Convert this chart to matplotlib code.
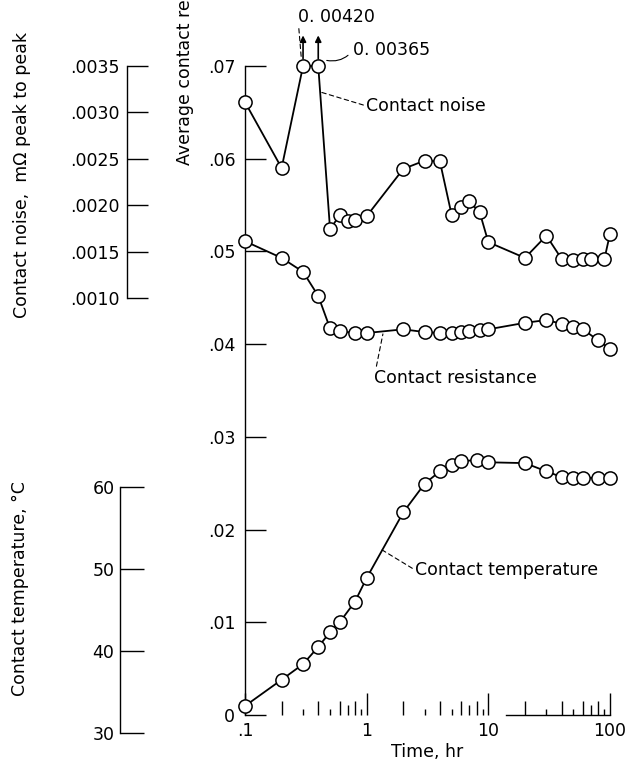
import numpy as np
import matplotlib
matplotlib.use("Agg")
import matplotlib.pyplot as plt
from matplotlib.ticker import FixedLocator, NullFormatter

plt.rcParams['font.family'] = ['Liberation Sans Narrow', 'DejaVu Sans']
plt.rcParams['font.size'] = 12.5

# time, hr
t_res = [0.1, 0.2, 0.3, 0.4, 0.5, 0.6, 0.8, 1, 2, 3, 4, 5, 6, 7, 8.5, 10,
         20, 30, 40, 50, 60, 80, 100]
t_noise = [0.1, 0.2, 0.3, 0.4, 0.5, 0.6, 0.7, 0.8, 1, 2, 3, 4, 5, 6, 7, 8.5, 10,
           20, 30, 40, 50, 60, 70, 90, 100]
t_temp = [0.1, 0.2, 0.3, 0.4, 0.5, 0.6, 0.8, 1, 2, 3, 4, 5, 6, 8, 10,
          20, 30, 40, 50, 60, 80, 100]

# average contact resistance
resistance = [0.0511, 0.0493, 0.0478, 0.0452, 0.0417, 0.0414, 0.0412, 0.0412,
              0.0416, 0.0413, 0.0412, 0.0412, 0.0413, 0.0414, 0.0415, 0.0416,
              0.0423, 0.0426, 0.0422, 0.0419, 0.0416, 0.0404, 0.0395]
# contact noise, mOhm peak to peak
noise = [0.00311, 0.00240, 0.00420, 0.00365, 0.00174, 0.00189, 0.00183, 0.00184,
         0.00188, 0.00239, 0.00248, 0.00247, 0.00189, 0.00198, 0.00204, 0.00192,
         0.00160, 0.00143, 0.00167, 0.00142, 0.00141, 0.00142, 0.00142, 0.00142,
         0.00169]
# contact temperature, deg C
temperature = [33.3, 36.5, 38.4, 40.5, 42.3, 43.5, 46.0, 48.9, 56.9, 60.4, 61.9,
               62.7, 63.1, 63.3, 63.0, 62.9, 61.9, 61.2, 61.1, 61.1, 61.1, 61.1]

x_ticks = [0.1, 1, 10, 100]
x_ticklabels = ['.1', '1', '10', '100']
res_ticks = [0, 0.01, 0.02, 0.03, 0.04, 0.05, 0.06, 0.07]
noise_ticks = [0.0010, 0.0015, 0.0020, 0.0025, 0.0030, 0.0035]
temp_ticks = [30, 40, 50, 60]

W, H = 625, 768
fig = plt.figure(figsize=(W / 100, H / 100), dpi=100)

mk = dict(marker='o', mfc='white', mec='black', ms=9.5, mew=1.1,
          color='black', lw=1.3, clip_on=False, zorder=3)
dash = dict(arrowstyle='-', color='black', lw=0.8, linestyle=(0, (4, 3)),
            shrinkA=0, shrinkB=0)

# main axes (resistance)
ax = fig.add_axes([245 / W, 1 - 715 / H, 365 / W, 649 / H])
ax.set_xscale('log')
ax.set_xlim(0.1, 100)
ax.set_ylim(0, 0.07)
ax.patch.set_alpha(0)
for s in ['top', 'right']:
    ax.spines[s].set_visible(False)
ax.spines['bottom'].set_bounds(14, 100)
for s in ['left', 'bottom']:
    ax.spines[s].set_linewidth(1.0)

ax.set_yticks(res_ticks)
ax.set_yticklabels(['0'] + ['.%02d' % round(v * 100) for v in res_ticks[1:]])
ax.tick_params(axis='y', direction='in', length=15, width=1.0, pad=7)
ax.yaxis.get_major_ticks()[0].tick1line.set_visible(False)

ax.xaxis.set_major_locator(FixedLocator(x_ticks))
ax.set_xticklabels(x_ticklabels)
minor_locs = [k * 10.0 ** e for e in (-1, 0, 1) for k in range(2, 10)]
ax.xaxis.set_minor_locator(FixedLocator(minor_locs))
ax.xaxis.set_minor_formatter(NullFormatter())
ax.tick_params(axis='x', which='major', direction='in', length=16, width=1.0, pad=5)
ax.tick_params(axis='x', which='minor', direction='in', length=8, width=1.0)
for tick, loc in zip(ax.xaxis.get_minor_ticks(len(minor_locs)), minor_locs):
    k = round(loc / 10 ** np.floor(np.log10(loc) + 1e-9))
    size = 10 if k % 2 == 0 else (7 if k == 7 else 4.5)
    tick.tick1line.set_markersize(size)
ax.set_xlabel('Time, hr', labelpad=2)

ax.plot(t_res, resistance, **mk)

# noise and temperature share the plotting area with their own ranges
axn = ax.twinx()
axn.set_ylim(-0.0035, 0.0035)
axn.axis('off')
noise_shown = np.minimum(noise, 0.0035)
axn.plot(t_noise, noise_shown, **mk)
for t, v in zip(t_noise, noise):
    if v > 0.0035:
        axn.annotate('', xy=(t, 0.00383), xytext=(t, 0.00358),
                     arrowprops=dict(arrowstyle='-|>', color='black', lw=1.2,
                                     mutation_scale=9, shrinkA=0, shrinkB=0),
                     annotation_clip=False)

axt = ax.twinx()
axt.set_ylim(32.2, 111.3)
axt.axis('off')
axt.plot(t_temp, temperature, **mk)

# labels on the curves
axn.annotate('0. 00420', xy=(0.29, 0.00359), xytext=(0.272, 0.00403),
             va='center', ha='left', annotation_clip=False,
             arrowprops=dict(dash, relpos=(0, 0.5)))
axn.annotate('0. 00365', xy=(0.47, 0.00356), xytext=(0.77, 0.00367),
             va='center', ha='left', annotation_clip=False,
             arrowprops=dict(arrowstyle='-', color='black', lw=0.8, shrinkA=2,
                             shrinkB=0, relpos=(0, 0.5),
                             connectionstyle='arc3,rad=-0.3'))
axn.annotate('Contact noise', xy=(0.415, 0.00322), xytext=(0.99, 0.00307),
             va='center', ha='left', arrowprops=dict(dash, relpos=(0, 0.5)))
ax.annotate('Contact resistance', xy=(1.36, 0.0411), xytext=(1.15, 0.03635),
            va='center', ha='left', arrowprops=dict(dash, relpos=(0, 0.5)))
ax.annotate('Contact temperature', xy=(1.34, 0.0178), xytext=(2.5, 0.01564),
            va='center', ha='left', arrowprops=dict(dash, relpos=(0, 0.5)))

# left-hand scales
axN = fig.add_axes([127 / W, 1 - 298 / H, 0.0001, 232 / H])
axT = fig.add_axes([120 / W, 1 - 733 / H, 0.0001, 246 / H])
for a in (axN, axT):
    a.patch.set_alpha(0)
    for s in ['top', 'right', 'bottom']:
        a.spines[s].set_visible(False)
    a.spines['left'].set_linewidth(1.0)
    a.set_xticks([])
axN.set_ylim(0.0010, 0.0035)
axN.set_yticks(noise_ticks)
axN.set_yticklabels(['.%04d' % round(v * 10000) for v in noise_ticks])
axN.tick_params(axis='y', direction='in', length=15, width=1.0, pad=5)
axT.set_ylim(30, 60)
axT.set_yticks(temp_ticks)
axT.set_yticklabels([str(v) for v in temp_ticks])
axT.tick_params(axis='y', direction='in', length=17, width=1.0, pad=4)

fig.text(185 / W, 1 - 165 / H, 'Average contact resistance, m\u03a9',
         rotation=90, ha='center', va='bottom')
fig.text(22 / W, 1 - 175 / H, 'Contact noise,  m\u03a9 peak to peak',
         rotation=90, ha='center', va='center')
fig.text(20 / W, 1 - 589 / H, 'Contact temperature, \u00b0C',
         rotation=90, ha='center', va='center')

fig.savefig('out.png', dpi=100)
